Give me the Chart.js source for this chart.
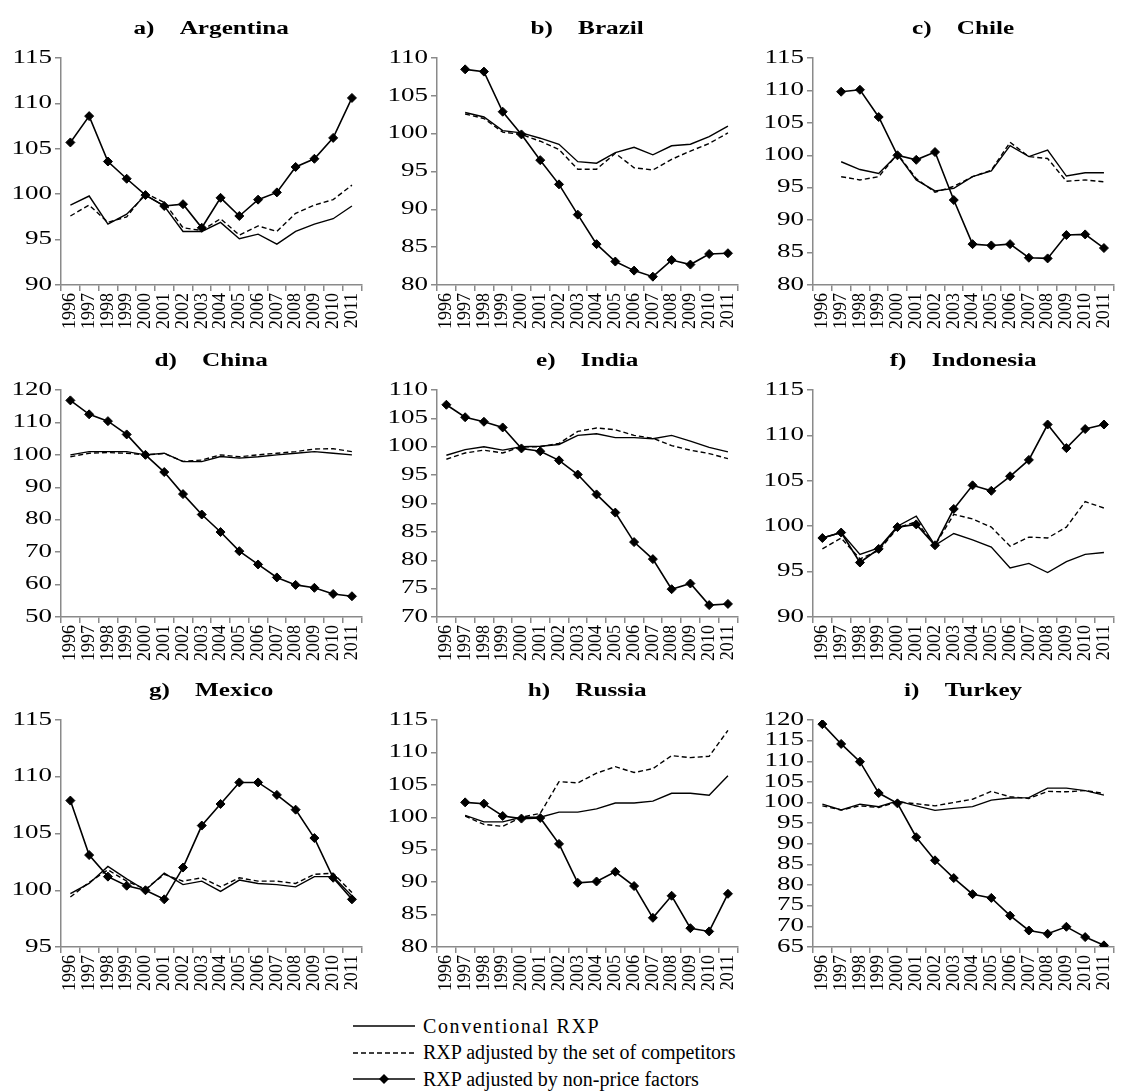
<!DOCTYPE html>
<html>
<head>
<meta charset="utf-8">
<script src="https://cdn.jsdelivr.net/npm/chart.js@4.4.1/dist/chart.umd.min.js"></script>
<style>
  body { margin: 0; background: #fff; }
  #figure { position: relative; width: 1128px; height: 1091px; }
  #figure canvas { position: absolute; }
  .legend { position: absolute; left: 353px; top: 1013px; font: 20px "Liberation Serif", "Times New Roman", serif; color: #000; }
  .legend-row { display: flex; align-items: center; height: 26.5px; white-space: nowrap; }
  .legend-row svg { width: 62px; height: 14px; margin-right: 8px; flex: none; }
</style>
</head>
<body>
<div id="figure">
  <canvas id="c0" width="376" height="331" style="left:0;top:0"></canvas>
  <canvas id="c1" width="376" height="331" style="left:376px;top:0"></canvas>
  <canvas id="c2" width="376" height="331" style="left:752px;top:0"></canvas>
  <canvas id="c3" width="376" height="331" style="left:0;top:332px"></canvas>
  <canvas id="c4" width="376" height="331" style="left:376px;top:332px"></canvas>
  <canvas id="c5" width="376" height="331" style="left:752px;top:332px"></canvas>
  <canvas id="c6" width="376" height="331" style="left:0;top:662px"></canvas>
  <canvas id="c7" width="376" height="331" style="left:376px;top:662px"></canvas>
  <canvas id="c8" width="376" height="331" style="left:752px;top:662px"></canvas>

  <div class="legend">
    <div class="legend-row">
      <svg viewBox="0 0 62 14"><line x1="0" y1="7" x2="62" y2="7" stroke="#000" stroke-width="1.5"/></svg>
      <span style="letter-spacing:1.6px">Conventional RXP</span>
    </div>
    <div class="legend-row">
      <svg viewBox="0 0 62 14"><line x1="0" y1="7" x2="62" y2="7" stroke="#000" stroke-width="1.5" stroke-dasharray="5 3"/></svg>
      <span>RXP adjusted by the set of competitors</span>
    </div>
    <div class="legend-row">
      <svg viewBox="0 0 62 14"><line x1="0" y1="7" x2="62" y2="7" stroke="#000" stroke-width="1.5"/><path d="M31 2 L36 7 L31 12 L26 7 Z" fill="#000"/></svg>
      <span>RXP adjusted by non-price factors</span>
    </div>
  </div>
</div>

<script>
const years = ['1996', '1997', '1998', '1999', '2000', '2001', '2002', '2003',
               '2004', '2005', '2006', '2007', '2008', '2009', '2010', '2011'];

const argentinaConventional = [98.8, 99.8, 96.7, 97.8, 99.9, 98.7, 95.9, 95.9, 96.9, 95.1, 95.6, 94.5, 95.9, 96.7, 97.3, 98.7];
const argentinaCompetitors  = [97.6, 98.8, 96.9, 97.5, 100.1, 99.1, 96.3, 96.0, 97.3, 95.5, 96.5, 95.9, 97.9, 98.8, 99.4, 101.0];
const argentinaNonPrice     = [105.7, 108.6, 103.6, 101.7, 99.9, 98.7, 98.9, 96.3, 99.6, 97.6, 99.4, 100.2, 103.0, 103.9, 106.2, 110.6];

const brazilConventional = [null, 102.8, 102.2, 100.4, 100.1, 99.4, 98.6, 96.3, 96.1, 97.5, 98.2, 97.2, 98.4, 98.6, 99.6, 101.0];
const brazilCompetitors  = [null, 102.6, 102.0, 100.2, 99.9, 99.0, 97.9, 95.3, 95.3, 97.4, 95.5, 95.2, 96.6, 97.7, 98.7, 100.1];
const brazilNonPrice     = [null, 108.5, 108.2, 102.9, 99.9, 96.5, 93.3, 89.3, 85.4, 83.1, 81.9, 81.1, 83.3, 82.7, 84.1, 84.2];

const chileConventional = [null, 99.0, 97.8, 97.2, 100.1, 96.2, 94.5, 94.9, 96.7, 97.6, 101.5, 99.8, 100.8, 96.8, 97.3, 97.3];
const chileCompetitors  = [null, 96.7, 96.2, 96.7, 100.2, 96.4, 94.3, 95.2, 96.7, 97.7, 102.0, 99.8, 99.5, 96.0, 96.2, 95.9];
const chileNonPrice     = [null, 109.8, 110.1, 105.9, 100.0, 99.3, 100.5, 93.1, 86.3, 86.1, 86.3, 84.2, 84.1, 87.7, 87.8, 85.7];

const chinaConventional = [100.0, 101.0, 101.0, 101.0, 100.0, 100.5, 97.9, 97.9, 99.5, 99.0, 99.4, 100.0, 100.5, 101.0, 100.5, 100.0];
const chinaCompetitors  = [99.4, 100.5, 100.7, 100.5, 100.0, 100.4, 98.0, 98.4, 100.0, 99.4, 100.0, 100.5, 101.0, 101.8, 101.9, 101.0];
const chinaNonPrice     = [116.8, 112.5, 110.4, 106.3, 100.0, 94.7, 87.9, 81.6, 76.2, 70.3, 66.2, 62.2, 59.9, 59.0, 57.1, 56.4];

const indiaConventional = [98.5, 99.5, 100.0, 99.4, 100.0, 100.1, 100.4, 102.0, 102.3, 101.6, 101.6, 101.4, 102.0, 101.0, 99.9, 99.1];
const indiaCompetitors  = [97.8, 98.9, 99.4, 98.9, 100.0, 100.0, 100.6, 102.7, 103.3, 103.0, 102.0, 101.5, 100.2, 99.4, 98.8, 97.9];
const indiaNonPrice     = [107.4, 105.2, 104.4, 103.4, 99.7, 99.2, 97.6, 95.1, 91.6, 88.4, 83.2, 80.2, 74.9, 75.9, 72.1, 72.3];

const indonesiaConventional = [98.7, 99.3, 96.9, 97.6, 100.0, 101.1, 97.9, 99.2, 98.5, 97.7, 95.4, 95.9, 94.9, 96.1, 96.9, 97.1];
const indonesiaCompetitors  = [97.5, 98.7, 96.4, 97.3, 99.8, 100.5, 97.9, 101.3, 100.8, 99.9, 97.8, 98.8, 98.7, 99.9, 102.7, 102.0];
const indonesiaNonPrice     = [98.7, 99.3, 96.0, 97.5, 99.9, 100.2, 97.9, 101.9, 104.5, 103.9, 105.5, 107.3, 111.2, 108.6, 110.7, 111.2];

const mexicoConventional = [99.7, 100.6, 102.1, 101.0, 100.0, 101.5, 100.5, 100.8, 99.9, 100.9, 100.6, 100.5, 100.3, 101.2, 101.2, 99.5];
const mexicoCompetitors  = [99.4, 100.7, 101.8, 100.8, 100.1, 101.4, 100.8, 101.1, 100.3, 101.1, 100.8, 100.8, 100.6, 101.4, 101.5, 99.8];
const mexicoNonPrice     = [107.9, 103.1, 101.2, 100.4, 100.0, 99.2, 102.0, 105.7, 107.6, 109.5, 109.5, 108.4, 107.1, 104.6, 101.1, 99.2];

const russiaConventional = [null, 100.3, 99.3, 99.3, 100.0, 100.0, 100.8, 100.8, 101.3, 102.2, 102.2, 102.5, 103.7, 103.7, 103.4, 106.4];
const russiaCompetitors  = [null, 100.2, 98.9, 98.6, 100.0, 100.6, 105.5, 105.3, 106.8, 107.8, 106.9, 107.5, 109.5, 109.2, 109.4, 113.4];
const russiaNonPrice     = [null, 102.3, 102.1, 100.2, 99.8, 99.9, 95.9, 89.9, 90.1, 91.6, 89.4, 84.5, 87.9, 82.9, 82.4, 88.2];

const turkeyConventional = [99.6, 98.2, 99.6, 99.0, 100.4, 99.2, 98.1, 98.6, 99.0, 100.6, 101.1, 101.2, 103.5, 103.5, 102.9, 101.8];
const turkeyCompetitors  = [99.2, 98.2, 99.2, 98.8, 100.2, 99.7, 99.2, 100.0, 100.8, 102.7, 101.4, 101.0, 102.7, 102.6, 102.9, 102.2];
const turkeyNonPrice     = [119.0, 114.2, 109.9, 102.3, 99.8, 91.6, 86.0, 81.7, 77.8, 76.9, 72.6, 69.0, 68.2, 69.9, 67.4, 65.4];

const panelTitles = ['a)    Argentina', 'b)    Brazil', 'c)    Chile',
                     'd)    China', 'e)    India', 'f)    Indonesia',
                     'g)    Mexico', 'h)    Russia', 'i)    Turkey'];
const yMin  = [90, 80, 80, 50, 70, 90, 95, 80, 65];
const yMax  = [115, 110, 115, 120, 110, 115, 115, 115, 120];
const yStep = [5, 5, 5, 10, 5, 5, 5, 5, 5];

const panelSeries = [
    [argentinaConventional, argentinaCompetitors, argentinaNonPrice],
    [brazilConventional, brazilCompetitors, brazilNonPrice],
    [chileConventional, chileCompetitors, chileNonPrice],
    [chinaConventional, chinaCompetitors, chinaNonPrice],
    [indiaConventional, indiaCompetitors, indiaNonPrice],
    [indonesiaConventional, indonesiaCompetitors, indonesiaNonPrice],
    [mexicoConventional, mexicoCompetitors, mexicoNonPrice],
    [russiaConventional, russiaCompetitors, russiaNonPrice],
    [turkeyConventional, turkeyCompetitors, turkeyNonPrice]
];

const serif = '"Liberation Serif", "Times New Roman", serif';
const axisColor = '#8a8a8a';

// the original's horizontal text is drawn wide; rotated year labels are not
function widenText(ctx) {
    const fill = ctx.fillText;
    ctx.fillText = function(text, x, y) {
        const m = this.getTransform();
        if (Math.abs(m.b) > 0.01) return fill.call(this, text, x, y);
        const sx = this.font.indexOf('bold') >= 0 ? 1.4 : 1.5;
        this.save();
        this.translate(x, y);
        this.scale(sx, 1);
        fill.call(this, text, 0, 0);
        this.restore();
    };
}

panelSeries.forEach(function(series, i) {
    const ctx = document.getElementById('c' + i).getContext('2d');
    widenText(ctx);
    new Chart(ctx, {
        type: 'line',
        data: {
            labels: years,
            datasets: [{
                label: 'RXP adjusted by non-price factors',
                data: series[2],
                borderColor: '#000',
                backgroundColor: '#000',
                borderWidth: 1.6,
                pointStyle: 'rectRot',
                pointRadius: 4.5,
                pointBorderWidth: 1
            }, {
                label: 'Conventional RXP',
                data: series[0],
                borderColor: '#000',
                borderWidth: 1.4,
                pointRadius: 0
            }, {
                label: 'RXP adjusted by the set of competitors',
                data: series[1],
                borderColor: '#000',
                borderWidth: 1.4,
                borderDash: [5, 3],
                pointRadius: 0
            }]
        },
        options: {
            responsive: false,
            animation: false,
            events: [],
            layout: { padding: { left: 0, right: 7, top: 0, bottom: 0 } },
            plugins: {
                legend: { display: false },
                tooltip: { enabled: false },
                title: {
                    display: true,
                    text: panelTitles[i],
                    fullSize: false,
                    color: '#000',
                    font: { family: serif, size: 18, weight: 'bold' },
                    padding: { top: 19, bottom: 17.4 }
                }
            },
            scales: {
                x: {
                    offset: true,
                    grid: { offset: true, drawOnChartArea: false, tickLength: 6, color: axisColor, lineWidth: 1.5 },
                    border: { color: axisColor, width: 1.5 },
                    ticks: {
                        autoSkip: false,
                        minRotation: 90,
                        maxRotation: 90,
                        padding: 2,
                        color: '#000',
                        font: { family: serif, size: 18 }
                    },
                    afterFit: function(scale) { scale.height = 46; }
                },
                y: {
                    min: yMin[i],
                    max: yMax[i],
                    grid: { drawOnChartArea: false, tickLength: 6, color: axisColor, lineWidth: 1.5 },
                    border: { color: axisColor, width: 1.5 },
                    ticks: {
                        stepSize: yStep[i],
                        autoSkip: false,
                        padding: 3,
                        color: '#000',
                        font: { family: serif, size: 18, lineHeight: 1 }
                    },
                    afterFit: function(scale) { scale.width = 61; }
                }
            }
        }
    });
});
</script>
</body>
</html>
